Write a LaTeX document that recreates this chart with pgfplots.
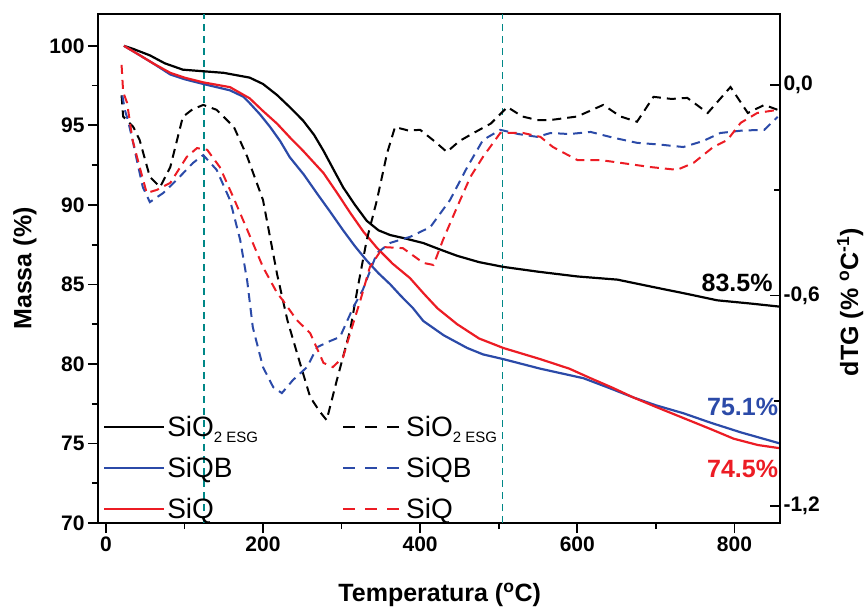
\documentclass[border=0pt]{standalone}
\usepackage{fontspec}
\setmainfont{Liberation Sans}
\usepackage{pgfplots}
\pgfplotsset{compat=1.18}
\definecolor{cblue}{RGB}{43,74,168}
\definecolor{cred}{RGB}{236,28,36}
\definecolor{cteal}{RGB}{0,135,135}

\newcommand{\esg}{SiO\raisebox{-6pt}{\fontsize{15}{15}\selectfont 2 ESG}}

\pgfplotsset{
  base/.style={
    width=682pt, height=509pt, scale only axis,
    xmin=-10, xmax=858,
    /pgf/number format/assume math mode=true,
    ticklabel style={font=\fontsize{21}{21}\selectfont\bfseries},
    major tick length=10pt, minor tick length=6pt,
    axis line style={line width=2.2pt},
    every tick/.style={black, line width=1.8pt},
  },
  tg/.style={line width=2.2pt},
  dtg/.style={line width=2pt, dash pattern=on 9pt off 6pt},
}

\begin{document}
\begin{tikzpicture}
\useasboundingbox (-98pt,-84pt) rectangle (766pt,523pt);

% TG curves, left axis
\begin{axis}[base,
  ymin=70, ymax=102,
  xtick={0,200,...,800}, ytick={70,75,...,100},
  minor x tick num=1, minor y tick num=1,
  tick align=outside, xtick pos=bottom, ytick pos=left,
  xlabel={Temperatura (\textsuperscript{o}C)},
  ylabel={Massa (\%)},
  xlabel style={font=\fontsize{25}{25}\selectfont\bfseries, at={(axis description cs:0.501,-0.141)}, anchor=center},
  ylabel style={font=\fontsize{25}{25}\selectfont\bfseries, at={(axis description cs:-0.107,0.5)}, anchor=center},
]
\addplot[cteal, line width=1.6pt, dash pattern=on 7pt off 5pt, forget plot] coordinates {(124.6,70) (124.6,102)};
\addplot[cteal, line width=1.6pt, dash pattern=on 7pt off 5pt, forget plot] coordinates {(505,70) (505,102)};

% SiO2 ESG
\addplot[tg, black] coordinates {
(23,100) (35,99.8) (56,99.4) (75,98.9) (98,98.5) (124,98.4) (150,98.3) (183,98.0)
(200,97.6) (218,96.9) (235,96.1) (251,95.3) (265,94.4) (277,93.4) (290,92.2) (302,91.1)
(317,90.0) (332,89.0) (347,88.4) (362,88.1) (380,87.9) (404,87.6) (425,87.2) (447,86.8)
(475,86.4) (506,86.1) (550,85.8) (600,85.5) (651,85.3) (700,84.8) (740,84.4) (778,84.0)
(820,83.8) (858,83.6)
};
% SiQB
\addplot[tg, cblue] coordinates {
(23,100) (40,99.5) (60,98.9) (82,98.2) (100,97.9) (124,97.6) (158,97.2) (175,96.8)
(183,96.4) (196,95.7) (209,94.9) (222,94.0) (234,93.0) (252,91.9) (269,90.7) (285,89.6)
(302,88.4) (317,87.4) (332,86.5) (347,85.7) (362,85.0) (375,84.3) (391,83.5) (404,82.7)
(430,81.8) (460,81.0) (480,80.6) (506,80.3) (553,79.7) (608,79.1) (640,78.5) (671,77.9)
(700,77.4) (735,76.9) (770,76.3) (808,75.7) (858,75.0)
};
% SiQ
\addplot[tg, cred] coordinates {
(23,100) (40,99.5) (60,98.9) (82,98.3) (100,98.0) (124,97.7) (158,97.4) (183,96.7)
(200,95.9) (218,95.1) (235,94.2) (251,93.4) (277,92.0) (295,90.7) (311,89.5) (328,88.3)
(345,87.3) (365,86.3) (387,85.4) (405,84.4) (422,83.5) (447,82.5) (475,81.6) (506,81.0)
(553,80.3) (590,79.7) (617,79.1) (645,78.5) (671,77.9) (700,77.3) (735,76.6) (770,75.9)
(799,75.3) (830,74.9) (858,74.7)
};

\node[anchor=east, font=\fontsize{25}{25}\selectfont\bfseries, text=black] at (axis cs:853,85.07) {83.5\%};
\node[anchor=east, font=\fontsize{25}{25}\selectfont\bfseries, text=cblue] at (axis cs:860,77.3) {75.1\%};
\node[anchor=east, font=\fontsize{25}{25}\selectfont\bfseries, text=cred] at (axis cs:860,73.4) {74.5\%};
\end{axis}

% dTG curves, right axis
\begin{axis}[base,
  axis y line*=right, axis x line=none,
  ymin=-1.248, ymax=0.202,
  ytick={-1.2,-0.6,0}, yticklabels={{-1,2},{-0,6},{0,0}},
  minor ytick={-0.9,-0.3},
  tick align=inside,
  ylabel={dTG (\% \textsuperscript{o}C\textsuperscript{-1})},
  ylabel style={font=\fontsize{25}{25}\selectfont\bfseries, at={(axis description cs:1.103,0.434)}, anchor=center},
  legend columns=2,
  legend cell align=left,
  legend style={draw=none, fill=none, at={(axis description cs:0.003,0.218)}, anchor=north west,
    font=\fontsize{28}{28}\selectfont, row sep=15pt,
    /tikz/every even column/.append style={column sep=82pt}},
  legend image code/.code={\draw[#1] (0pt,0pt) -- (60pt,0pt);},
]
% SiO2 ESG
\addplot[dtg, black, forget plot] coordinates {
(20,-0.03) (22,-0.09) (35,-0.12) (43,-0.157) (56,-0.262) (69,-0.291) (82,-0.234) (98,-0.091)
(110,-0.07) (124,-0.057) (141,-0.071) (163,-0.120) (180,-0.205) (200,-0.328) (218,-0.540)
(231,-0.670) (247,-0.792) (260,-0.889) (272,-0.93) (281,-0.955) (294,-0.841) (311,-0.698)
(320,-0.584) (332,-0.442) (345,-0.328) (358,-0.194) (368,-0.120) (385,-0.13) (400,-0.128)
(418,-0.16) (434,-0.191) (450,-0.16) (468,-0.137) (490,-0.11) (511,-0.063) (530,-0.09)
(549,-0.100) (566,-0.100) (600,-0.09) (633,-0.057) (655,-0.09) (676,-0.105) (697,-0.034)
(720,-0.04) (740,-0.037) (766,-0.080) (795,-0.006) (817,-0.080) (838,-0.057) (855,-0.071)
};
% SiQB
\addplot[dtg, cblue, forget plot] coordinates {
(21,-0.03) (24,-0.07) (28,-0.10) (34,-0.157) (40,-0.22) (47,-0.291) (56,-0.334) (65,-0.32)
(73,-0.308) (90,-0.271) (111,-0.222) (124,-0.200) (141,-0.242) (158,-0.328) (171,-0.442)
(180,-0.56) (187,-0.690) (200,-0.804) (213,-0.861) (224,-0.878) (238,-0.841) (256,-0.804)
(269,-0.747) (285,-0.73) (298,-0.718) (315,-0.633) (327,-0.584) (345,-0.479) (362,-0.450)
(387,-0.433) (413,-0.405) (438,-0.328) (460,-0.234) (480,-0.157) (502,-0.128) (525,-0.14)
(549,-0.148) (566,-0.137) (590,-0.14) (617,-0.134) (645,-0.15) (676,-0.165) (705,-0.17)
(735,-0.177) (760,-0.16) (782,-0.137) (810,-0.13) (838,-0.128) (855,-0.091)
};
% SiQ
\addplot[dtg, cred, forget plot] coordinates {
(20,0.057) (22,-0.02) (27,-0.051) (34,-0.157) (43,-0.234) (52,-0.308) (65,-0.299) (82,-0.279)
(103,-0.205) (116,-0.180) (129,-0.185) (145,-0.234) (162,-0.319) (180,-0.413) (200,-0.519)
(218,-0.593) (225,-0.613) (243,-0.670) (260,-0.707) (277,-0.792) (289,-0.804) (302,-0.775)
(311,-0.707) (324,-0.613) (336,-0.519) (353,-0.462) (378,-0.465) (404,-0.507) (417,-0.513)
(429,-0.442) (447,-0.348) (464,-0.262) (480,-0.205) (502,-0.137) (531,-0.137) (553,-0.148)
(569,-0.177) (600,-0.214) (629,-0.214) (655,-0.222) (693,-0.234) (727,-0.242) (748,-0.222)
(773,-0.177) (791,-0.157) (808,-0.108) (829,-0.080) (855,-0.071)
};

\addlegendimage{black, line width=2pt}
\addlegendentry{\esg}
\addlegendimage{black, line width=2pt, dash pattern=on 12pt off 10pt}
\addlegendentry{\esg}
\addlegendimage{cblue, line width=2pt}
\addlegendentry{SiQB}
\addlegendimage{cblue, line width=2pt, dash pattern=on 12pt off 10pt}
\addlegendentry{SiQB}
\addlegendimage{cred, line width=2pt}
\addlegendentry{SiQ}
\addlegendimage{cred, line width=2pt, dash pattern=on 12pt off 10pt}
\addlegendentry{SiQ}
\end{axis}
\end{tikzpicture}
\end{document}
